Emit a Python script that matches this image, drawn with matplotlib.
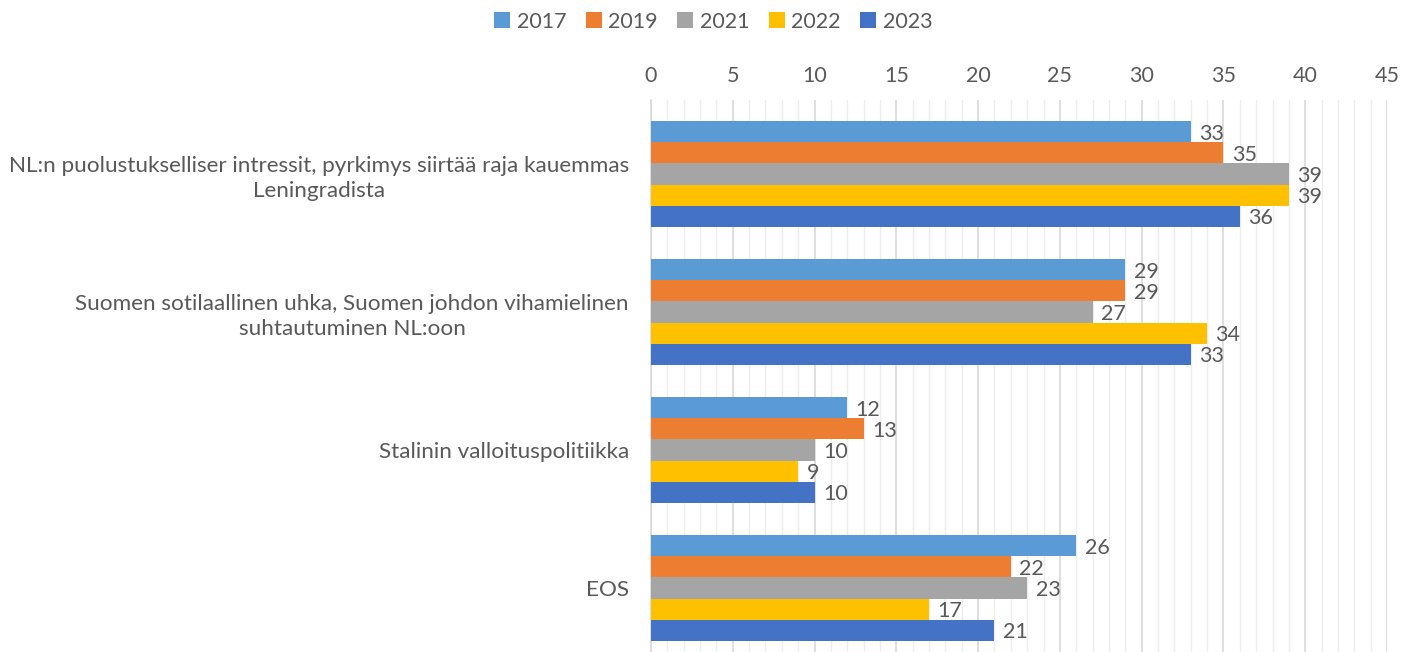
import matplotlib.pyplot as plt
import numpy as np
from matplotlib.ticker import MultipleLocator

# data
categories = ["NL:n puolustukselliser intressit, pyrkimys siirtää raja kauemmas\nLeningradista",
              "Suomen sotilaallinen uhka, Suomen johdon vihamielinen\nsuhtautuminen NL:oon",
              "Stalinin valloituspolitiikka",
              "EOS"]
years = ["2017", "2019", "2021", "2022", "2023"]
v2017 = [33, 29, 12, 26]
v2019 = [35, 29, 13, 22]
v2021 = [39, 27, 10, 23]
v2022 = [39, 34, 9, 17]
v2023 = [36, 33, 10, 21]
series = [v2017, v2019, v2021, v2022, v2023]
colors = ["#5B9BD5", "#ED7D31", "#A5A5A5", "#FFC000", "#4472C4"]

txt = "#595959"
plt.rcParams['font.family'] = ['Lato', 'DejaVu Sans']

fig = plt.figure(figsize=(14.15, 6.52), dpi=100)
ax = fig.add_axes([651/1415, 0.0, (1387-651)/1415, 1 - 100/652])

y = np.arange(len(categories))
h = 0.1536
for i, (vals, col, yr) in enumerate(zip(series, colors, years)):
    pos = y + (i - 2) * h
    bars = ax.barh(pos, vals, height=h, color=col, label=yr, zorder=3)
    for b, v in zip(bars, vals):
        ax.annotate(str(v), (v, b.get_y() + h / 2), xytext=(6, -1.5),
                    textcoords="offset points", ha="left", va="center",
                    fontsize=15.5, color=txt)

ax.set_xlim(0, 45)
ax.set_ylim(3.464, -0.536)
ax.xaxis.set_major_locator(MultipleLocator(5))
ax.xaxis.set_minor_locator(MultipleLocator(1))
ax.xaxis.tick_top()
ax.tick_params(axis="x", which="both", length=0, pad=10, labelsize=15.5, labelcolor=txt)
ax.tick_params(axis="y", length=0, pad=16, labelsize=16.2, labelcolor=txt)
ax.set_yticks(y)
ax.set_yticklabels(categories, multialignment="center", linespacing=1.3)
ax.grid(axis="x", which="major", color="#D9D9D9", linewidth=1.2, zorder=0)
ax.grid(axis="x", which="minor", color="#EDEDED", linewidth=1.0, zorder=0)
for s in ["top", "right", "bottom"]:
    ax.spines[s].set_visible(False)
ax.spines["left"].set_color("#D9D9D9")
ax.spines["left"].set_linewidth(1.2)

fig.legend(loc="upper center", bbox_to_anchor=(0.504, 1.012), ncol=5, frameon=False,
           fontsize=15.5, labelcolor=txt, handlelength=0.75, handleheight=0.75,
           handletextpad=0.3, columnspacing=0.9)

fig.savefig("out.png", dpi=100)
